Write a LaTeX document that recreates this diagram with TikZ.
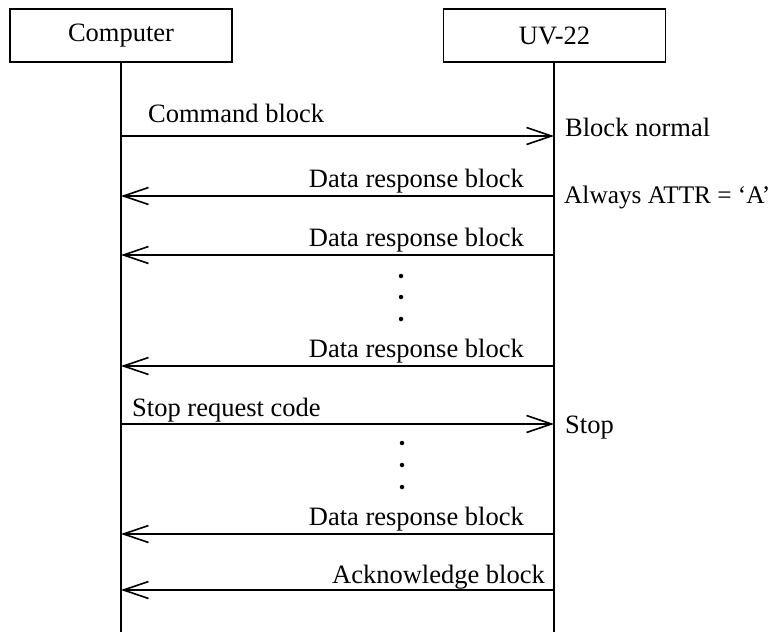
\documentclass[tikz,border=0pt]{standalone}
\usepackage{fontspec}
\setmainfont{Liberation Serif}
\usetikzlibrary{arrows.meta}
\begin{document}
\begin{tikzpicture}[x=1pt,y=-1pt,
  every node/.style={font=\fontsize{26.5}{30}\selectfont, inner sep=0pt},
  actor/.style={draw, line width=1.8pt, minimum width=222pt, minimum height=53pt},
  life/.style={line width=1.9pt},
  msg/.style={line width=1.6pt, -{Straight Barb[length=25pt,width=17pt,line width=1.6pt]}},
  lbl/.style={anchor=base west},
  rlbl/.style={anchor=base east},
  dotm/.style={circle, fill, minimum size=4.5pt, inner sep=0pt}]
\useasboundingbox (0,0) rectangle (779,632);
% actors
\node[actor] (comp) at (121,35.5) {Computer};
\node[actor] (uv) at (554.5,35.5) {UV-22};
\coordinate (compEnd) at (121,632);
\coordinate (uvEnd) at (554,632);
\draw[life] (comp.south -| compEnd) -- (compEnd);
\draw[life] (uv.south -| uvEnd) -- (uvEnd);
% message endpoints
\foreach \n/\y in {1/136,2/196,3/255,4/366,5/424,6/534,7/590}{
  \coordinate (l\n) at (121,\y);
  \coordinate (r\n) at (554,\y);
}
% messages
\draw[msg] (l1) -- (r1);
\node[lbl] (t1) at (148,122) {Command block};
\node[lbl] (n1) at (565,136) {Block normal};

\draw[msg] (r2) -- (l2);
\node[rlbl] (t2) at (524,187) {Data response block};
\node[lbl, font=\fontsize{25.3}{30}\selectfont] (n2) at (564,203) {Always ATTR = ‘A’};

\draw[msg] (r3) -- (l3);
\node[rlbl] (t3) at (524,246) {Data response block};

\node[dotm] (d1) at (401,276) {};
\node[dotm] (d2) at (401,297) {};
\node[dotm] (d3) at (401,319) {};

\draw[msg] (r4) -- (l4);
\node[rlbl] (t4) at (524,357) {Data response block};

\draw[msg] (l5) -- (r5);
\node[lbl] (t5) at (132,416) {Stop request code};
\node[lbl] (n5) at (565,433) {Stop};

\node[dotm] (d4) at (402,443) {};
\node[dotm] (d5) at (402,465) {};
\node[dotm] (d6) at (402,487) {};

\draw[msg] (r6) -- (l6);
\node[rlbl] (t6) at (524,525) {Data response block};

\draw[msg] (r7) -- (l7);
\node[rlbl] (t7) at (545,583) {Acknowledge block};
\end{tikzpicture}
\end{document}
